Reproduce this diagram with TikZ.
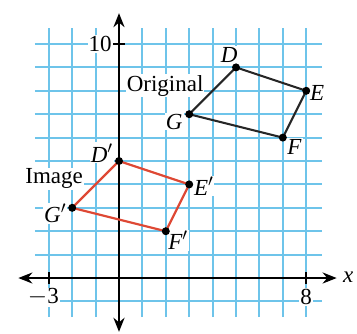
\documentclass[tikz,border=0pt]{standalone}
\usepackage{fontspec}
\setmainfont{Liberation Serif}
\usetikzlibrary{arrows.meta}
\definecolor{gridblue}{RGB}{110,196,234}
\definecolor{imgred}{RGB}{222,72,52}
\begin{document}
\begin{tikzpicture}[x=23.4pt,y=23.4pt,
 gridline/.style={gridblue, line width=2pt},
 axisline/.style={line width=2.7pt, {Stealth[length=14pt,width=11pt]}-{Stealth[length=14pt,width=11pt]}},
 tickline/.style={line width=1.8pt},
 lbl/.style={fill=white, inner sep=1pt, font=\fontsize{23}{25}\selectfont},
 ptlbl/.style={fill=white, inner sep=1pt, font=\fontsize{23}{25}\selectfont\itshape},
 dot/.style={circle, fill=black, inner sep=0pt, minimum size=8pt},
 origline/.style={line width=2.1pt, black!85, line join=round},
 imgline/.style={line width=2.2pt, imgred, line join=round}]
\useasboundingbox (-5.085,-2.35) rectangle (10.17,11.88);
% grid
\foreach \x in {-3,...,8} \draw[gridline] (\x,-1.67) -- (\x,10.68);
\foreach \y in {-1,...,10} \draw[gridline] (-3.6,\y) -- (8.66,\y);
% text labels with white background
\node[lbl] (ten) at (-0.81,10) {10};
\node[lbl] (mthree) at (-3.23,-0.82) {$-$3};
\node[lbl] (eight) at (8,-0.82) {8};
\node[lbl] (original) at (1.97,8.22) {Original};
\node[lbl] (image) at (-2.77,4.25) {Image};
% axes
\coordinate (xl) at (-4.3,0);
\coordinate (xr) at (9.3,0);
\coordinate (yb) at (0,-2.3);
\coordinate (yt) at (0,11.32);
\draw[axisline] (xl) -- (xr);
\draw[axisline] (yb) -- (yt);
\node[font=\fontsize{23}{25}\selectfont\itshape] (xlab) at (9.8,0.05) {x};
% ticks
\coordinate (tk10) at (0,10);
\coordinate (tkm3) at (-3,0);
\coordinate (tk8) at (8,0);
\draw[tickline] ([xshift=-6pt]tk10) -- ([xshift=6pt]tk10);
\draw[tickline] ([yshift=-6pt]tkm3) -- ([yshift=6pt]tkm3);
\draw[tickline] ([yshift=-6pt]tk8) -- ([yshift=6pt]tk8);
% points
\coordinate (D) at (5,9);
\coordinate (E) at (8,8);
\coordinate (F) at (7,6);
\coordinate (G) at (3,7);
\coordinate (Dp) at (0,5);
\coordinate (Ep) at (3,4);
\coordinate (Fp) at (2,2);
\coordinate (Gp) at (-2,3);
% point labels
\node[ptlbl] (lD) at (4.71,9.53) {D};
\node[ptlbl] (lE) at (8.47,7.89) {E};
\node[ptlbl] (lF) at (7.5,5.6) {F};
\node[ptlbl] (lG) at (2.36,6.68) {G};
\node[ptlbl] (lDp) at (-0.74,5.35) {D$'$};
\node[ptlbl] (lEp) at (3.62,3.93) {E$'$};
\node[ptlbl] (lFp) at (2.52,1.6) {F$'$};
\node[ptlbl] (lGp) at (-2.73,2.76) {G$'$};
% polygons
\draw[origline] (D) -- (E) -- (F) -- (G) -- cycle;
\draw[imgline] (Dp) -- (Ep) -- (Fp) -- (Gp) -- cycle;
\foreach \p in {D,E,F,G,Dp,Ep,Fp,Gp} \node[dot] (dot\p) at (\p) {};
\end{tikzpicture}
\end{document}
